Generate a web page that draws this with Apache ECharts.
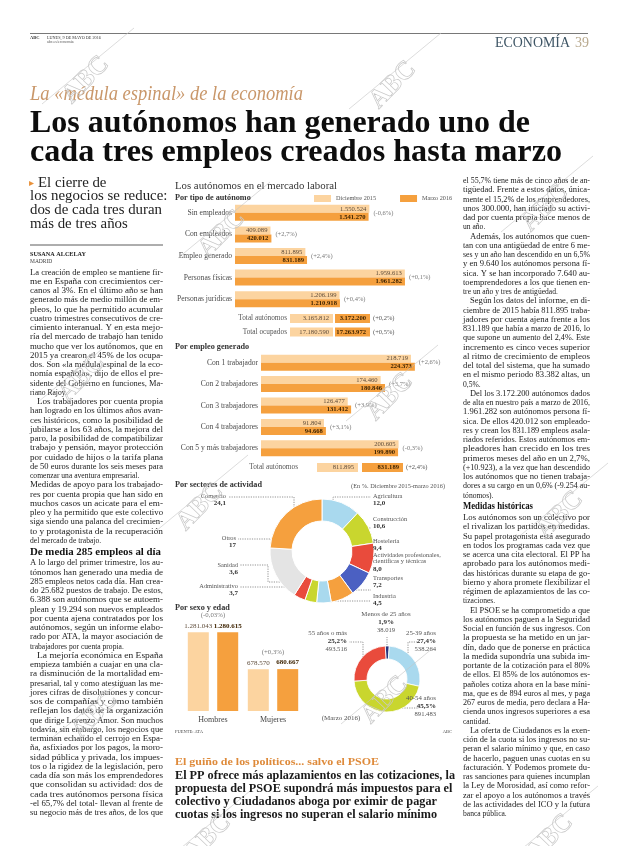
<!DOCTYPE html>
<html lang="es"><head><meta charset="utf-8"><title>Los autónomos</title>
<script src="https://cdn.jsdelivr.net/npm/echarts@6.0.0/dist/echarts.min.js"></script>
<style>html,body{margin:0;padding:0;background:#fff;}#chart{width:620px;height:846px;}</style>
</head><body><div id="chart"></div>
<script>
// ---------- DATA ----------
const legendNames = ['Diciembre 2015', 'Marzo 2016'];
const tipoCats = ['Sin empleados', 'Con empleados', 'Empleo generado', 'Personas físicas', 'Personas jurídicas'];
const tipoDic = [1550524, 409089, 811895, 1959613, 1206199];
const tipoMar = [1541270, 420012, 831189, 1961282, 1210918];
const tipoChg = ['(-0,6%)', '(+2,7%)', '(+2,4%)', '(+0,1%)', '(+0,4%)'];
const totalCats = ['Total autónomos', 'Total ocupados'];
const totalDic = [3165812, 17180590];
const totalMar = [3172200, 17263972];
const totalChg = ['(+0,2%)', '(+0,5%)'];

const empCats = ['Con 1 trabajador', 'Con 2 trabajadores', 'Con 3 trabajadores', 'Con 4 trabajadores', 'Con 5 y más trabajadores'];
const empDic = [218719, 174460, 126477, 91804, 200605];
const empMar = [224373, 180846, 131412, 94668, 199890];
const empChg = ['(+2,6%)', '(+3,7%)', '(+3,9%)', '(+3,1%)', '(-0,3%)'];
const empTotalName = 'Total autónomos';
const empTotalDic = 811895, empTotalMar = 831189, empTotalChg = '(+2,4%)';

const sectorNames = ['Agricultura', 'Construcción', 'Hostelería', 'Actividades profesionales,\ncientíficas y técnicas', 'Transportes', 'Industria', 'Administrativo', 'Sanidad', 'Otros', 'Comercio'];
const sectorVals = [12.0, 10.6, 9.4, 8.0, 7.2, 4.5, 3.7, 3.6, 17, 24.1];
const sectorLabels = ['12,0', '10,6', '9,4', '8,0', '7,2', '4,5', '3,7', '3,6', '17', '24,1'];

const sexCats = ['Hombres', 'Mujeres'];
const sexDic = [1281043, 678570];
const sexMar = [1280615, 680667];
const sexChg = ['(-0,03%)', '(+0,3%)'];

const ageNames = ['Menos de 25 años', '25-39 años', '40-54 años', '55 años o más'];
const ageVals = [38019, 538264, 891483, 493516];
const agePct = ['1,9%', '27,4%', '45,5%', '25,2%'];

// ---------- STYLE ----------
const FONT = '"Liberation Serif", "DejaVu Serif", serif';
const LIGHT = '#fcd4a0', DARK = '#f5a03e';
const sectorColors = ['#a9d9ee', '#c9d62e', '#e94b3c', '#4b60c2', '#f5a03e', '#a9d9ee', '#c9d62e', '#e94b3c', '#e4e4e4', '#f5a03e'];
const ageColors = ['#27357e', '#a9d9ee', '#c9d62e', '#e94b3c'];
const fmt = v => String(v).replace(/\B(?=(\d{3})+(?!\d))/g, '.');

const sectorLabelPos = [
  {x: 373, y: 492.5, align: 'left', line: [[333, 512], [333, 497], [371, 497]]},
  {x: 373, y: 516, align: 'left', line: [[350, 528], [360, 528], [371, 528]]},
  {x: 373, y: 537.5, align: 'left', line: [[357, 549], [364, 549], [371, 549]]},
  {x: 373, y: 551.5, align: 'left', line: [[350, 569], [360, 569], [371, 569]]},
  {x: 373, y: 575, align: 'left', line: [[337, 585], [337, 590], [371, 590]]},
  {x: 373, y: 593, align: 'left', line: [[321, 596], [321, 601], [371, 601]]},
  {x: 238, y: 583, align: 'right', line: [[311, 589], [302, 587], [240, 587]]},
  {x: 238, y: 561.5, align: 'right', line: [[299, 582], [268, 582], [268, 565], [240, 565]]},
  {x: 236, y: 535, align: 'right', line: [[283, 553], [270, 539], [238, 539]]},
  {x: 226, y: 492.5, align: 'right', line: [[294, 515], [294, 497], [228, 497]]}
];
const ageLabelPos = [
  {x: 386, y: 610, align: 'center', line: [[387, 650], [387, 643], [387, 637]]},
  {x: 436, y: 629, align: 'right', line: [[408, 665], [408, 642], [419, 642]]},
  {x: 436, y: 694, align: 'right', line: [[384, 702], [384, 708], [419, 708]]},
  {x: 347, y: 629, align: 'right', line: [[363, 662], [363, 642], [349, 642]]}
];

// ---------- TEXT CONTENT ----------
const headLines = ['El cierre de', 'los negocios se reduce:', 'dos de cada tres duran', 'más de tres años'];
const leftBody = [
'La creación de empleo se mantiene fir-',
'me en España con crecimientos cer-',
'canos al 3%. En el último año se han',
'generado más de medio millón de em-',
'pleos, lo que ha permitido acumular',
'cuatro trimestres consecutivos de cre-',
'cimiento interanual. Y en esta mejo-',
'ría del mercado de trabajo han tenido',
'mucho que ver los autónomos, que en',
'2015 ya crearon el 45% de los ocupa-',
'dos. Son «la médula espinal de la eco-',
'nomía española», dijo de ellos el pre-',
'sidente del Gobierno en funciones, Ma-',
'riano Rajoy.|',
'>Los trabajadores por cuenta propia',
'han logrado en los últimos años avan-',
'ces históricos, como la posibilidad de',
'jubilarse a los 63 años, la mejora del',
'paro, la posibilidad de compatibilizar',
'trabajo y pensión, mayor protección',
'por cuidado de hijos o la tarifa plana',
'de 50 euros durante los seis meses para',
'comenzar una aventura empresarial.|',
'Medidas de apoyo para los trabajado-',
'res por cuenta propia que han sido en',
'muchos casos un acicate para el em-',
'pleo y ha permitido que este colectivo',
'siga siendo una palanca del crecimien-',
'to y protagonista de la recuperación',
'del mercado de trabajo.|',
'#De media 285 empleos al día',
'A lo largo del primer trimestre, los au-',
'tónomos han generado una media de',
'285 empleos netos cada día. Han crea-',
'do 25.682 puestos de trabajo. De estos,',
'6.388 son autónomos que se autoem-',
'plean y 19.294 son nuevos empleados',
'por cuenta ajena contratados por los',
'autónomos, según un informe elabo-',
'rado por ATA, la mayor asociación de',
'trabajadores por cuenta propia.|',
'>La mejoría económica en España',
'empieza también a cuajar en una cla-',
'ra disminución de la mortalidad em-',
'presarial, tal y como atestiguan las me-',
'jores cifras de disoluciones y concur-',
'sos de compañías y como también',
'reflejan los datos de la organización',
'que dirige Lorenzo Amor. Son muchos',
'todavía, sin embargo, los negocios que',
'terminan echando el cerrojo en Espa-',
'ña, asfixiados por los pagos, la moro-',
'sidad pública y privada, los impues-',
'tos o la rigidez de la legislación, pero',
'cada día son más los emprendedores',
'que consolidan su actividad: dos de',
'cada tres autónomos persona física',
'-el 65,7% del total- llevan al frente de',
'su negocio más de tres años, de los que'
];
const rightBody = [
'el 55,7% tiene más de cinco años de an-',
'tigüedad. Frente a estos datos, única-',
'mente el 15,2% de los emprendedores,',
'unos 300.000, han iniciado su activi-',
'dad por cuenta propia hace menos de',
'un año.|',
'>Además, los autónomos que cuen-',
'tan con una antigüedad de entre 6 me-',
'ses y un año han descendido en un 6,5%',
'y en 9.640 los autónomos persona fí-',
'sica. Y se han incorporado 7.640 au-',
'toemprendedores a los que tienen en-',
'tre un año y tres de antigüedad.|',
'>Según los datos del informe, en di-',
'ciembre de 2015 había 811.895 traba-',
'jadores por cuenta ajena frente a los',
'831.189 que había a marzo de 2016, lo',
'que supone un aumento del 2,4%. Este',
'incremento es cinco veces superior',
'al ritmo de crecimiento de empleos',
'del total del sistema, que ha sumado',
'en el mismo periodo 83.382 altas, un',
'0,5%.|',
'>Del los 3.172.200 autónomos dados',
'de alta en nuestro país a marzo de 2016,',
'1.961.282 son autónomos persona fí-',
'sica. De ellos 420.012 son empleado-',
'res y crean los 831.189 empleos asala-',
'riados referidos. Estos autónomos em-',
'pleadores han crecido en los tres',
'primeros meses del año en un 2,7%,',
'(+10.923), a la vez que han descendido',
'los autónomos que no tienen trabaja-',
'dores a su cargo en un 0,6% (-9.254 au-',
'tónomos).|',
'#Medidas históricas',
'Los autónomos son un colectivo por',
'el rivalizan los partidos en medidas.',
'Su papel protagonista está asegurado',
'en todos los programas cada vez que',
'se acerca una cita electoral. El PP ha',
'aprobado para los autónomos medi-',
'das históricas durante su etapa de go-',
'bierno y ahora promete flexibilizar el',
'régimen de aplazamientos de las co-',
'tizaciones.|',
'>El PSOE se ha comprometido a que',
'los autónomos paguen a la Seguridad',
'Social en función de sus ingresos. Con',
'la propuesta se ha metido en un jar-',
'dín, dado que de ponerse en práctica',
'la medida supondría una subida im-',
'portante de la cotización para el 80%',
'de ellos. El 85% de los autónomos es-',
'pañoles cotiza ahora en la base míni-',
'ma, que es de 894 euros al mes, y paga',
'267 euros de media, pero declara a Ha-',
'cienda unos ingresos superiores a esa',
'cantidad.|',
'>La oferta de Ciudadanos es la exen-',
'ción de la cuota si los ingresos no su-',
'peran el salario mínimo y que, en caso',
'de hacerlo, paguen unas cuotas en su',
'facturación. Y Podemos promete du-',
'ras sanciones para quienes incumplan',
'la Ley de Morosidad, así como refor-',
'zar el apoyo a los autónomos a través',
'de las actividades del ICO y la futura',
'banca pública.|'
];
const boxTitle = 'El guiño de los políticos... salvo el PSOE';
const boxLines = [
'El PP ofrece más aplazamientos en las cotizaciones, la',
'propuesta del PSOE supondrá más impuestos para el',
'colectivo y Ciudadanos aboga por eximir de pagar',
'cuotas si los ingresos no superan el salario mínimo'
];
const watermarks = [[86, 80], [393, 85], [222, 234], [545, 208], [82, 378], [390, 397], [200, 507], [560, 515], [95, 715], [385, 700], [208, 838], [550, 838]];

// ---------- HELPERS ----------
const ctx = document.createElement('canvas').getContext('2d');
const g = [];
function fontStr(o) { return (o.fstyle || 'normal') + ' ' + (o.weight || 'normal') + ' ' + (o.size || 8) + 'px ' + (o.family || FONT); }
function measure(str, o) { ctx.font = fontStr(o); return ctx.measureText(str).width; }
function txt(x, y, str, o) {
  o = o || {};
  let sx = 1;
  if (o.fitW) {
    sx = o.fitW / measure(str, o);
    if (o.clamp && (sx < o.clamp[0] || sx > o.clamp[1])) sx = 1;
  }
  if (o.scale) sx = o.scale;
  const st = {text: str, font: fontStr(o), fill: o.color || '#222',
    align: o.align || 'left', textAlign: o.align || 'left',
    verticalAlign: 'middle', textVerticalAlign: 'middle'};
  if (o.stroke) { st.stroke = o.stroke; st.lineWidth = o.lw || 1; }
  g.push({type: 'text', x: x, y: y, scaleX: sx, rotation: o.rot || 0, silent: true, z: o.z || 10, style: st});
  return sx;
}
function rect(x, y, w, h, fill) { g.push({type: 'rect', silent: true, z: 5, shape: {x: x, y: y, width: w, height: h}, style: {fill: fill}}); }
function line(x1, y1, x2, y2, stroke, lw) { g.push({type: 'line', silent: true, z: 5, shape: {x1: x1, y1: y1, x2: x2, y2: y2}, style: {stroke: stroke, lineWidth: lw || 1}}); }

function column(lines, x, y0, w, lh, size, headW) {
  let y = y0;
  lines.forEach(function (raw) {
    if (raw[0] === '#') {
      const hy = y - lh + 11.25;
      txt(x, hy, raw.slice(1), {size: 10.5, weight: 'bold', color: '#111', fitW: headW});
      y = hy + 11.25;
      return;
    }
    let s = raw, indent = 0, last = false;
    if (s[0] === '>') { s = s.slice(1); indent = 7; }
    if (s[s.length - 1] === '|') { s = s.slice(0, -1); last = true; }
    const o = {size: size, color: '#1c1c1c'};
    if (!last) { o.fitW = w - indent; o.clamp = [0.75, 1.3]; }
    else { o.scale = 0.96; }
    txt(x + indent, y, s, o);
    y += lh;
  });
}

// ---------- PAGE TEXT ----------
// header
line(30, 33.5, 588, 33.5, '#555', 0.8);
txt(30, 38, 'ABC', {size: 4.5, weight: 'bold', color: '#333'});
txt(47, 37.5, 'LUNES, 9 DE MAYO DE 2016', {size: 4.2, color: '#333'});
txt(47, 42, 'abc.es/economia', {size: 4, color: '#555'});
txt(495, 43.5, 'ECONOMÍA', {size: 14, color: '#3e5565', fitW: 75});
txt(575, 43.5, '39', {size: 14, color: '#b8a98e'});
// titles
txt(30, 95, 'La «médula espinal» de la economía', {size: 20, fstyle: 'italic', color: '#c9976a', fitW: 273});
txt(30, 123.5, 'Los autónomos han generado uno de', {size: 31, weight: 'bold', color: '#0d0d0d', fitW: 500});
txt(30, 152.5, 'cada tres empleos creados hasta marzo', {size: 31, weight: 'bold', color: '#0d0d0d', fitW: 532});
// left sub-head
const hs = 132 / measure(headLines[2], {size: 14});
txt(29, 183.5, '▸', {size: 10, color: '#e8913a'});
headLines.forEach(function (s, i) { txt(i === 0 ? 38 : 30, 183 + i * 13.8, s, {size: 14, color: '#222', scale: hs}); });
line(30, 245, 163, 245, '#333', 0.8);
txt(30, 254, 'SUSANA ALCELAY', {size: 6.2, weight: 'bold', color: '#222'});
txt(30, 262, 'MADRID', {size: 5.5, color: '#444'});
column(leftBody, 30, 272.5, 133, 9.25, 7.9, 131);
column(rightBody, 463, 181, 127, 9.25, 7.9, 70);
// bottom box
txt(175, 762, boxTitle, {size: 11, weight: 'bold', color: '#de8a3a', fitW: 204});
const bs = 280 / measure(boxLines[0], {size: 12.5, weight: 'bold'});
boxLines.forEach(function (s, i) { txt(175, 775.5 + i * 13, s, {size: 12.5, weight: 'bold', color: '#1a1a1a', scale: bs}); });

// chart panel texts
txt(175, 186, 'Los autónomos en el mercado laboral', {size: 10.5, color: '#333', fitW: 162});
txt(175, 198, 'Por tipo de autónomo', {size: 8.2, weight: 'bold', color: '#333'});
txt(175, 347, 'Por empleo generado', {size: 8.2, weight: 'bold', color: '#333'});
txt(175, 485, 'Por sectores de actividad', {size: 8.2, weight: 'bold', color: '#333'});
txt(445, 486, '(En %. Diciembre 2015-marzo 2016)', {size: 6.3, color: '#555', align: 'right'});
txt(175, 608, 'Por sexo y edad', {size: 8.2, weight: 'bold', color: '#333'});
txt(341, 718, '(Marzo 2016)', {size: 7, color: '#555', align: 'center'});
txt(175, 732, 'FUENTE: ATA', {size: 4.5, color: '#444'});
txt(452, 732, 'ABC', {size: 4.5, color: '#444', align: 'right'});

// total rows (table cells)
function totalRow(y, name, dic, mar, chg, xName, xL, wL, xD, wD) {
  txt(xName, y, name, {size: 7.3, color: '#555', align: 'right'});
  rect(xL, y - 4.5, wL, 9, LIGHT);
  rect(xD, y - 4.5, wD, 9, DARK);
  txt(xL + wL - 4, y, fmt(dic), {size: 6.6, color: '#5e4c3a', align: 'right'});
  txt(xD + wD - 4, y, fmt(mar), {size: 6.6, weight: 'bold', color: '#3d2300', align: 'right'});
  txt(xD + wD + 3, y, chg, {size: 6.5, color: '#555'});
}
totalCats.forEach(function (c, i) { totalRow(318.5 + i * 13.5, c, totalDic[i], totalMar[i], totalChg[i], 287, 290, 43, 335, 35); });
totalRow(467.5, empTotalName, empTotalDic, empTotalMar, empTotalChg, 298, 317, 41, 362, 41);

// watermarks
watermarks.forEach(function (p) {
  line(p[0] - 44, p[1] + 24, p[0] + 48, p[1] - 52, '#c4c4c4', 0.6);
  txt(p[0], p[1], 'ABC', {size: 26, weight: 'bold', color: 'rgba(255,255,255,0)', stroke: '#c8c8c8', lw: 0.7, align: 'center', rot: 46 * Math.PI / 180, z: 50});
});

// ---------- CHART ----------
const axisCat = function (grid, data, margin) {
  return {gridIndex: grid, type: 'category', data: data, inverse: true, axisLine: {show: false}, axisTick: {show: false},
    axisLabel: {margin: margin, fontSize: 7.6, color: '#4a4a4a', fontFamily: FONT}};
};
const barLabel = function (bold) {
  return {show: true, position: 'insideRight', distance: 3, formatter: function (p) { return fmt(p.value); },
    fontSize: 6.6, fontFamily: FONT, fontWeight: bold ? 'bold' : 'normal', color: bold ? '#3d2300' : '#5e4c3a'};
};
function changeSeries(xi, yi, dic, mar, chg) {
  return {type: 'scatter', xAxisIndex: xi, yAxisIndex: yi, symbolSize: 0, silent: true, itemStyle: {color: 'rgba(0,0,0,0)'},
    data: dic.map(function (v, i) { return [Math.max(v, mar[i]), i]; }),
    label: {show: true, position: 'right', distance: 4, fontSize: 6.5, fontFamily: FONT, color: '#555',
      formatter: function (p) { return chg[p.dataIndex]; }}};
}
function pieLayout(pos) {
  return function (params) {
    const L = pos[params.dataIndex];
    return {x: L.x, y: L.y, align: L.align, verticalAlign: 'top', labelLinePoints: L.line};
  };
}

const option = {
  animation: false,
  backgroundColor: '#ffffff',
  textStyle: {fontFamily: FONT},
  legend: {data: legendNames, left: 314, top: 195, itemWidth: 17, itemHeight: 7, itemGap: 24, icon: 'rect', padding: 0,
    selectedMode: false, textStyle: {fontSize: 6.2, color: '#555', fontFamily: FONT}},
  grid: [
    {left: 235, top: 202, width: 208, height: 108},
    {left: 261, top: 352, width: 192, height: 107},
    {left: 183, top: 631, width: 120, height: 80}
  ],
  xAxis: [
    {gridIndex: 0, type: 'value', min: 0, max: 2400000, show: false},
    {gridIndex: 1, type: 'value', min: 0, max: 280000, show: false},
    {gridIndex: 2, type: 'category', data: sexCats, axisLine: {show: false}, axisTick: {show: false},
      axisLabel: {margin: 5, fontSize: 8, color: '#444', fontFamily: FONT}}
  ],
  yAxis: [
    axisCat(0, tipoCats, 3),
    axisCat(1, empCats, 3),
    {gridIndex: 2, type: 'value', min: 0, max: 1300000, show: false}
  ],
  series: [
    {type: 'bar', name: legendNames[0], xAxisIndex: 0, yAxisIndex: 0, data: tipoDic, barWidth: 8, barGap: '0%', itemStyle: {color: LIGHT}, label: barLabel(false), silent: true},
    {type: 'bar', name: legendNames[1], xAxisIndex: 0, yAxisIndex: 0, data: tipoMar, barWidth: 8, barGap: '0%', itemStyle: {color: DARK}, label: barLabel(true), silent: true},
    changeSeries(0, 0, tipoDic, tipoMar, tipoChg),
    {type: 'bar', name: legendNames[0], xAxisIndex: 1, yAxisIndex: 1, data: empDic, barWidth: 8, barGap: '0%', itemStyle: {color: LIGHT}, label: barLabel(false), silent: true},
    {type: 'bar', name: legendNames[1], xAxisIndex: 1, yAxisIndex: 1, data: empMar, barWidth: 8, barGap: '0%', itemStyle: {color: DARK}, label: barLabel(true), silent: true},
    changeSeries(1, 1, empDic, empMar, empChg),
    {type: 'bar', name: legendNames[0], xAxisIndex: 2, yAxisIndex: 2, data: sexDic, barWidth: 21, barGap: '40%', itemStyle: {color: LIGHT}, silent: true,
      label: {show: true, position: 'top', distance: 3, fontSize: 7, fontFamily: FONT, color: '#5e4c3a', formatter: function (p) { return fmt(p.value); }}},
    {type: 'bar', name: legendNames[1], xAxisIndex: 2, yAxisIndex: 2, data: sexMar, barWidth: 21, barGap: '40%', itemStyle: {color: DARK}, silent: true,
      label: {show: true, position: 'top', distance: 3, fontSize: 7, fontFamily: FONT, fontWeight: 'bold', color: '#3d2300', formatter: function (p) { return fmt(p.value); }}},
    {type: 'scatter', xAxisIndex: 2, yAxisIndex: 2, symbolSize: 0, silent: true, itemStyle: {color: 'rgba(0,0,0,0)'},
      data: sexDic.map(function (v, i) { return [i, Math.max(v, sexMar[i])]; }),
      label: {show: true, position: 'top', distance: 13, fontSize: 6.8, fontFamily: FONT, color: '#555', formatter: function (p) { return sexChg[p.dataIndex]; }}},
    {type: 'pie', center: [322, 551], radius: [30, 52], startAngle: 90, silent: true, avoidLabelOverlap: false,
      itemStyle: {borderColor: '#fff', borderWidth: 1},
      data: sectorNames.map(function (n, i) { return {name: n, value: sectorVals[i], itemStyle: {color: sectorColors[i]}}; }),
      label: {show: true, position: 'outside', formatter: function (p) { return '{n|' + p.name + '}\n{v|' + sectorLabels[p.dataIndex] + '}'; },
        rich: {n: {fontSize: 6.4, color: '#555', lineHeight: 6.8, fontFamily: FONT}, v: {fontSize: 7, fontWeight: 'bold', color: '#333', lineHeight: 7.5, fontFamily: FONT}}},
      labelLine: {show: true, length: 5, length2: 5, lineStyle: {color: '#666', width: 0.7, type: [1.2, 1.2]}},
      labelLayout: pieLayout(sectorLabelPos)},
    {type: 'pie', center: [387, 679], radius: [20, 33], startAngle: 93, silent: true, avoidLabelOverlap: false,
      itemStyle: {borderColor: '#fff', borderWidth: 0.8},
      data: ageNames.map(function (n, i) { return {name: n, value: ageVals[i], itemStyle: {color: ageColors[i]}}; }),
      label: {show: true, position: 'outside', formatter: function (p) { return '{n|' + p.name + '}\n{p|' + agePct[p.dataIndex] + '}\n{v|' + fmt(p.value) + '}'; },
        rich: {n: {fontSize: 6.8, color: '#555', lineHeight: 8, fontFamily: FONT}, p: {fontSize: 7, fontWeight: 'bold', color: '#333', lineHeight: 8, fontFamily: FONT}, v: {fontSize: 6.6, color: '#555', lineHeight: 8, fontFamily: FONT}}},
      labelLine: {show: true, length: 5, length2: 5, lineStyle: {color: '#666', width: 0.7, type: [1.2, 1.2]}},
      labelLayout: pieLayout(ageLabelPos)}
  ],
  graphic: {elements: g}
};
const chart = echarts.init(document.getElementById('chart'), null, {renderer: 'canvas'});
chart.setOption(option);
</script></body></html>
